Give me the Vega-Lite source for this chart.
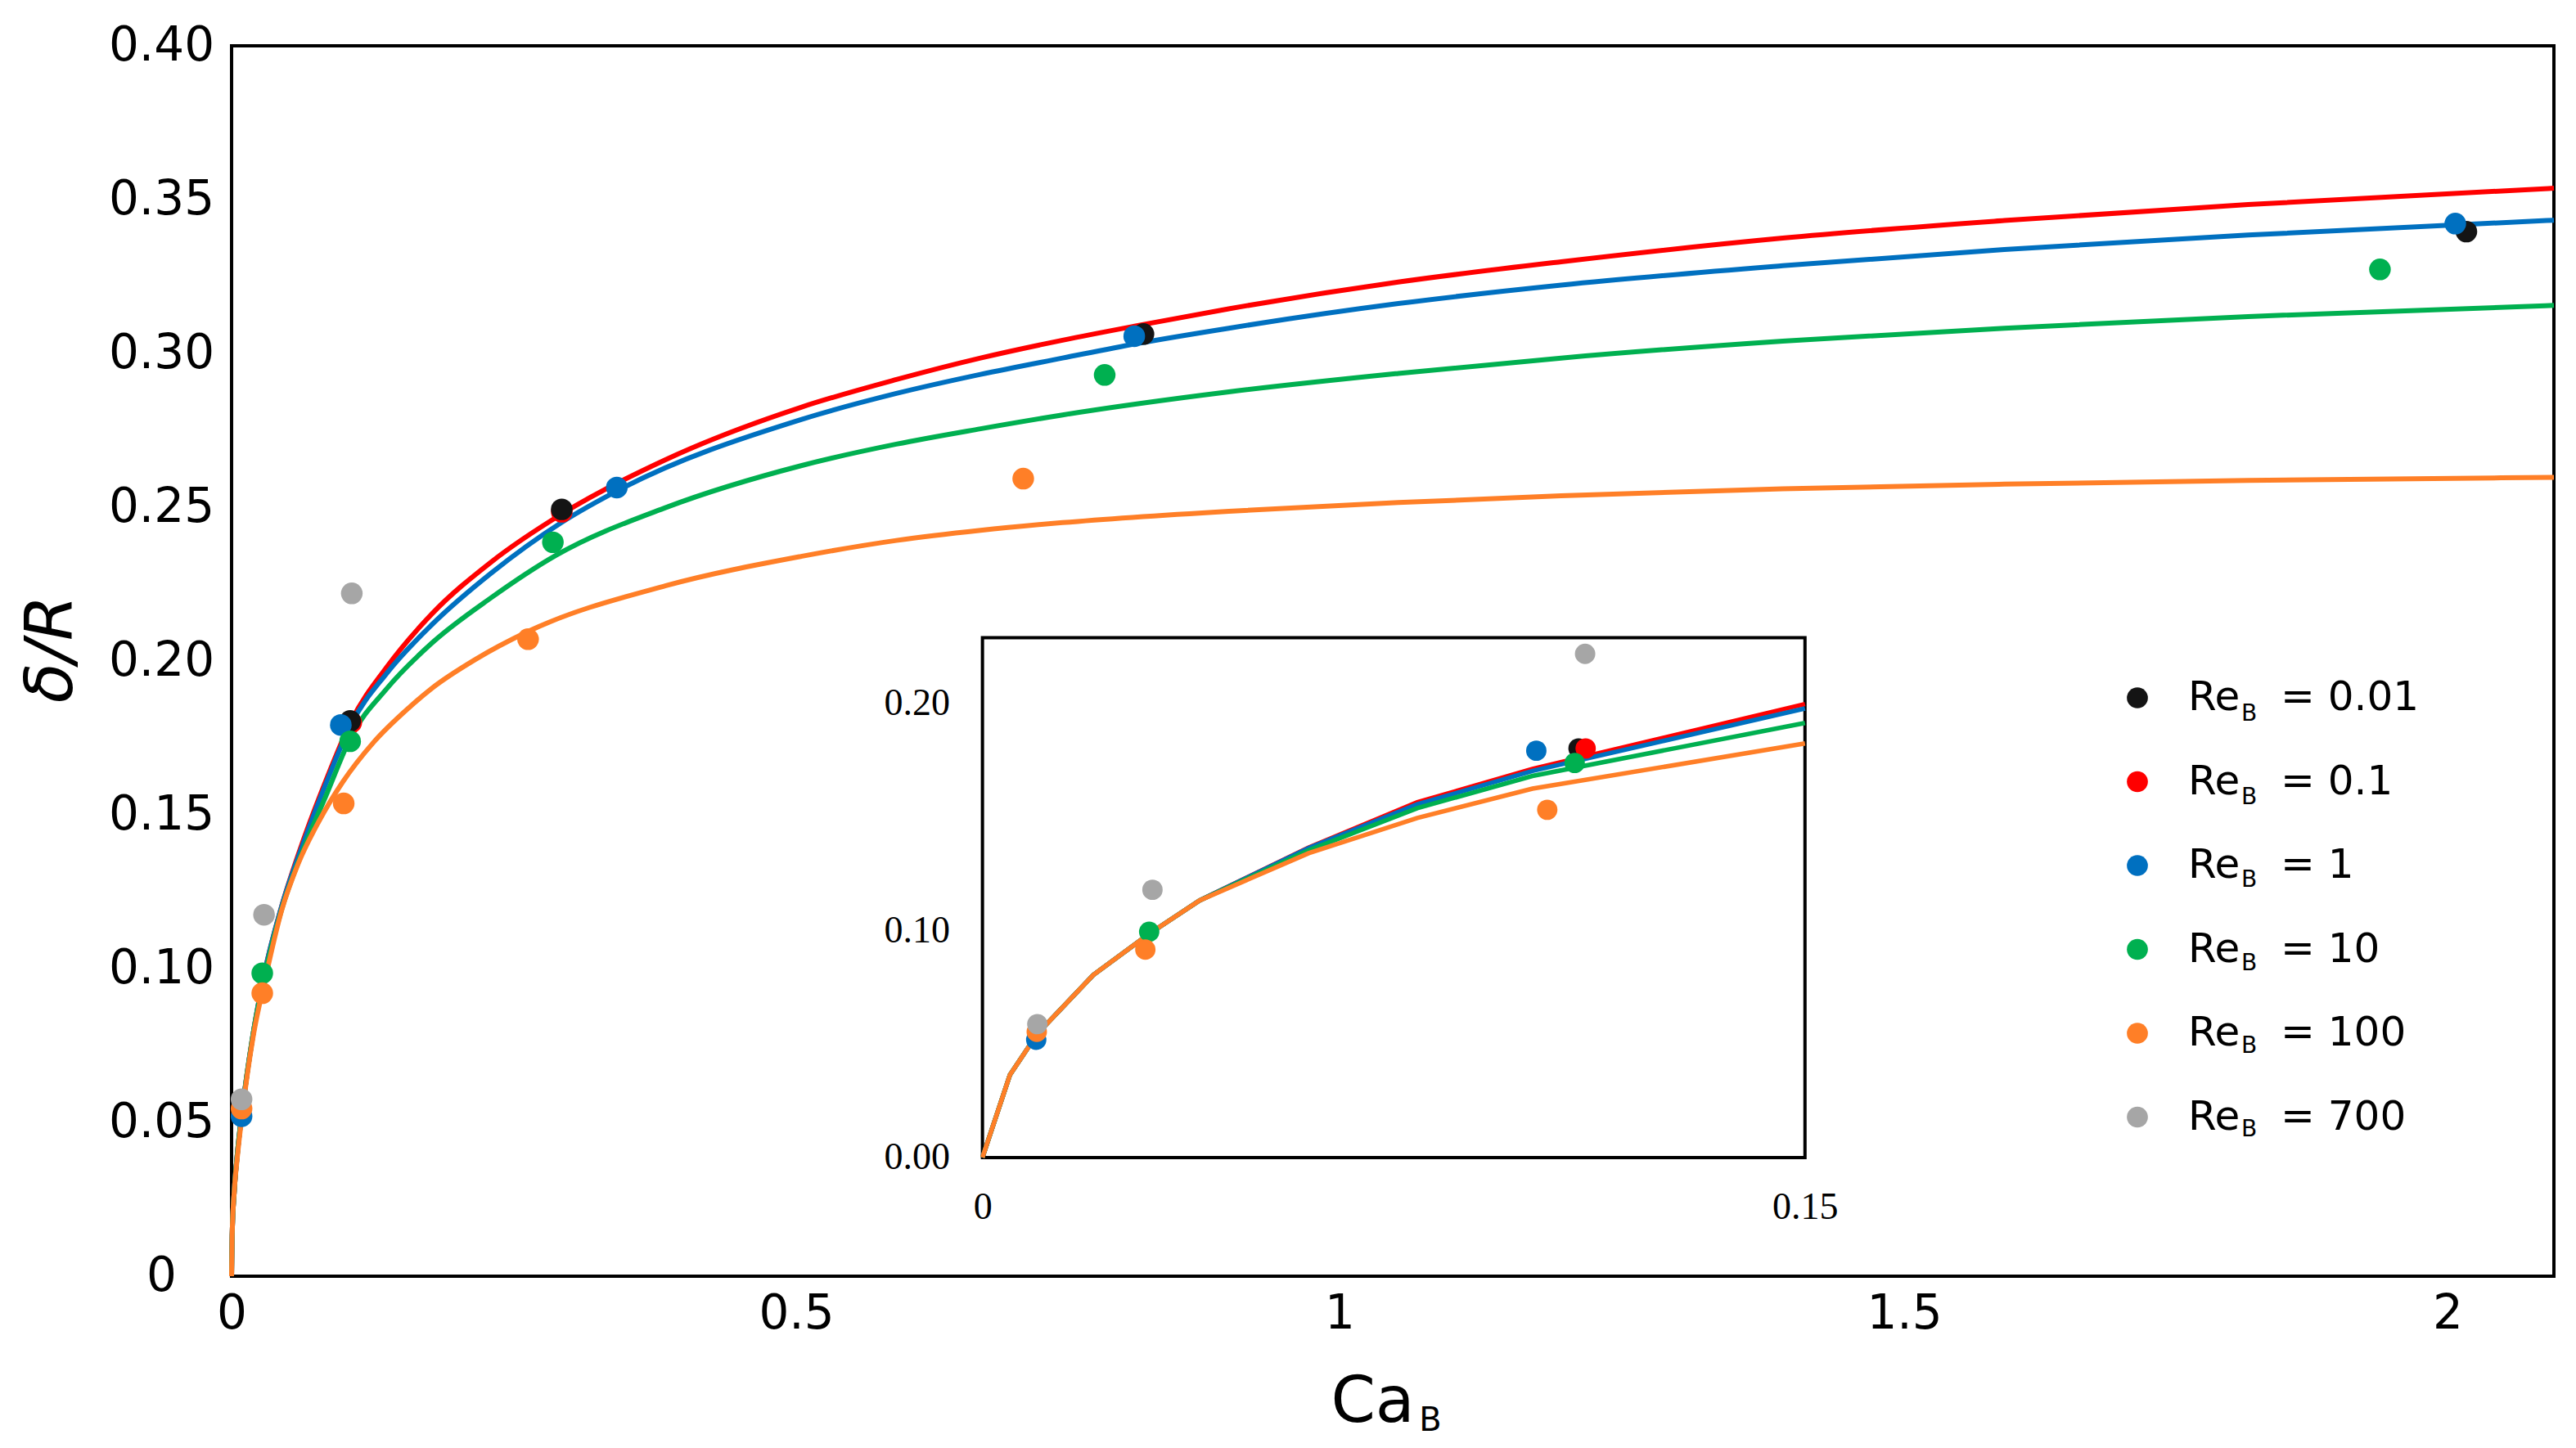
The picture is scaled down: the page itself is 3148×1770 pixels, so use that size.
{
  "$schema": "https://vega.github.io/schema/vega-lite/v6.json",
  "width": 2838,
  "height": 1504,
  "autosize": {"type": "none"},
  "padding": {"left": 283, "top": 56, "right": 27, "bottom": 210},
  "background": "white",
  "config": {
    "view": {"stroke": "black", "strokeWidth": 4},
    "font": "DejaVu Sans",
    "axis": {"grid": false, "domain": false, "ticks": false, "tickSize": 0, "labelColor": "black", "titleColor": "black", "labelOverlap": false, "labelFlush": false},
    "legend": {"padding": 0}
  },
  "title": {"text": "B", "orient": "bottom", "anchor": "middle", "font": "DejaVu Sans", "fontSize": 40, "fontWeight": "normal", "color": "black", "baseline": "alphabetic", "dx": 46, "dy": -8},
  "datasets": {
    "mainCurves": [
      {"Re": "0.1", "Ca": 0, "d": 0}, {"Re": "0.1", "Ca": 0.0005, "d": 0.013}, {"Re": "0.1", "Ca": 0.0025, "d": 0.028}, {"Re": "0.1", "Ca": 0.005, "d": 0.039},
      {"Re": "0.1", "Ca": 0.01, "d": 0.055}, {"Re": "0.1", "Ca": 0.02, "d": 0.08}, {"Re": "0.1", "Ca": 0.03, "d": 0.099}, {"Re": "0.1", "Ca": 0.045, "d": 0.12},
      {"Re": "0.1", "Ca": 0.065, "d": 0.142}, {"Re": "0.1", "Ca": 0.085, "d": 0.161}, {"Re": "0.1", "Ca": 0.108, "d": 0.1805}, {"Re": "0.1", "Ca": 0.14, "d": 0.198},
      {"Re": "0.1", "Ca": 0.181, "d": 0.2154}, {"Re": "0.1", "Ca": 0.234, "d": 0.2321}, {"Re": "0.1", "Ca": 0.298, "d": 0.2478}, {"Re": "0.1", "Ca": 0.392, "d": 0.2655},
      {"Re": "0.1", "Ca": 0.514, "d": 0.2825}, {"Re": "0.1", "Ca": 0.6, "d": 0.2915}, {"Re": "0.1", "Ca": 0.676, "d": 0.2985}, {"Re": "0.1", "Ca": 0.75, "d": 0.3043},
      {"Re": "0.1", "Ca": 0.817, "d": 0.309}, {"Re": "0.1", "Ca": 0.9, "d": 0.3145}, {"Re": "0.1", "Ca": 1.053, "d": 0.3232}, {"Re": "0.1", "Ca": 1.2, "d": 0.3298},
      {"Re": "0.1", "Ca": 1.4, "d": 0.3375}, {"Re": "0.1", "Ca": 1.6, "d": 0.3432}, {"Re": "0.1", "Ca": 1.82, "d": 0.3484}, {"Re": "0.1", "Ca": 2.096, "d": 0.3537},
      {"Re": "1", "Ca": 0, "d": 0}, {"Re": "1", "Ca": 0.0005, "d": 0.013}, {"Re": "1", "Ca": 0.0025, "d": 0.028}, {"Re": "1", "Ca": 0.005, "d": 0.039},
      {"Re": "1", "Ca": 0.01, "d": 0.055}, {"Re": "1", "Ca": 0.02, "d": 0.08}, {"Re": "1", "Ca": 0.03, "d": 0.099}, {"Re": "1", "Ca": 0.045, "d": 0.12},
      {"Re": "1", "Ca": 0.065, "d": 0.141}, {"Re": "1", "Ca": 0.085, "d": 0.16}, {"Re": "1", "Ca": 0.108, "d": 0.1795}, {"Re": "1", "Ca": 0.14, "d": 0.196},
      {"Re": "1", "Ca": 0.181, "d": 0.2119}, {"Re": "1", "Ca": 0.234, "d": 0.2285}, {"Re": "1", "Ca": 0.298, "d": 0.2451}, {"Re": "1", "Ca": 0.35, "d": 0.2557},
      {"Re": "1", "Ca": 0.514, "d": 0.2785}, {"Re": "1", "Ca": 0.6, "d": 0.287}, {"Re": "1", "Ca": 0.676, "d": 0.2932}, {"Re": "1", "Ca": 0.75, "d": 0.2985},
      {"Re": "1", "Ca": 0.817, "d": 0.3032}, {"Re": "1", "Ca": 0.9, "d": 0.3082}, {"Re": "1", "Ca": 1.053, "d": 0.3162}, {"Re": "1", "Ca": 1.2, "d": 0.3222},
      {"Re": "1", "Ca": 1.4, "d": 0.3285}, {"Re": "1", "Ca": 1.6, "d": 0.3338}, {"Re": "1", "Ca": 1.82, "d": 0.3385}, {"Re": "1", "Ca": 2.096, "d": 0.3433},
      {"Re": "10", "Ca": 0, "d": 0}, {"Re": "10", "Ca": 0.0005, "d": 0.013}, {"Re": "10", "Ca": 0.0025, "d": 0.028}, {"Re": "10", "Ca": 0.005, "d": 0.039},
      {"Re": "10", "Ca": 0.01, "d": 0.055}, {"Re": "10", "Ca": 0.02, "d": 0.08}, {"Re": "10", "Ca": 0.03, "d": 0.098}, {"Re": "10", "Ca": 0.045, "d": 0.119},
      {"Re": "10", "Ca": 0.065, "d": 0.139}, {"Re": "10", "Ca": 0.085, "d": 0.156}, {"Re": "10", "Ca": 0.108, "d": 0.1755}, {"Re": "10", "Ca": 0.14, "d": 0.191},
      {"Re": "10", "Ca": 0.181, "d": 0.2059}, {"Re": "10", "Ca": 0.234, "d": 0.2205}, {"Re": "10", "Ca": 0.293, "d": 0.2344}, {"Re": "10", "Ca": 0.392, "d": 0.2499},
      {"Re": "10", "Ca": 0.514, "d": 0.2635}, {"Re": "10", "Ca": 0.6, "d": 0.2705}, {"Re": "10", "Ca": 0.676, "d": 0.2755}, {"Re": "10", "Ca": 0.75, "d": 0.28},
      {"Re": "10", "Ca": 0.9, "d": 0.2875}, {"Re": "10", "Ca": 1.053, "d": 0.2935}, {"Re": "10", "Ca": 1.2, "d": 0.2985}, {"Re": "10", "Ca": 1.4, "d": 0.304},
      {"Re": "10", "Ca": 1.6, "d": 0.3082}, {"Re": "10", "Ca": 1.82, "d": 0.312}, {"Re": "10", "Ca": 2.096, "d": 0.3156},
      {"Re": "100", "Ca": 0, "d": 0}, {"Re": "100", "Ca": 0.0005, "d": 0.013}, {"Re": "100", "Ca": 0.0025, "d": 0.028}, {"Re": "100", "Ca": 0.005, "d": 0.038},
      {"Re": "100", "Ca": 0.01, "d": 0.054}, {"Re": "100", "Ca": 0.02, "d": 0.079}, {"Re": "100", "Ca": 0.03, "d": 0.096}, {"Re": "100", "Ca": 0.045, "d": 0.1187},
      {"Re": "100", "Ca": 0.06, "d": 0.134}, {"Re": "100", "Ca": 0.079, "d": 0.148}, {"Re": "100", "Ca": 0.1, "d": 0.1605}, {"Re": "100", "Ca": 0.128, "d": 0.1735},
      {"Re": "100", "Ca": 0.16, "d": 0.1848}, {"Re": "100", "Ca": 0.181, "d": 0.1912}, {"Re": "100", "Ca": 0.22, "d": 0.2005}, {"Re": "100", "Ca": 0.267, "d": 0.2095},
      {"Re": "100", "Ca": 0.392, "d": 0.2245}, {"Re": "100", "Ca": 0.514, "d": 0.234}, {"Re": "100", "Ca": 0.6, "d": 0.2392}, {"Re": "100", "Ca": 0.676, "d": 0.2425},
      {"Re": "100", "Ca": 0.75, "d": 0.245}, {"Re": "100", "Ca": 0.9, "d": 0.2487}, {"Re": "100", "Ca": 1.053, "d": 0.2515}, {"Re": "100", "Ca": 1.2, "d": 0.2537},
      {"Re": "100", "Ca": 1.4, "d": 0.256}, {"Re": "100", "Ca": 1.6, "d": 0.2575}, {"Re": "100", "Ca": 1.82, "d": 0.2587}, {"Re": "100", "Ca": 2.096, "d": 0.2597}
    ],
    "mainPoints": [
      {"Re": "0.1", "Ca": 0.108, "d": 0.18}, {"Re": "0.1", "Ca": 0.298, "d": 0.2485},
      {"Re": "0.01", "Ca": 0.107, "d": 0.1805}, {"Re": "0.01", "Ca": 0.298, "d": 0.2493}, {"Re": "0.01", "Ca": 0.823, "d": 0.3063}, {"Re": "0.01", "Ca": 2.017, "d": 0.3396},
      {"Re": "1", "Ca": 0.009, "d": 0.052}, {"Re": "1", "Ca": 0.0986, "d": 0.1792}, {"Re": "1", "Ca": 0.3477, "d": 0.2564}, {"Re": "1", "Ca": 0.8147, "d": 0.3056}, {"Re": "1", "Ca": 2.007, "d": 0.3422},
      {"Re": "10", "Ca": 0.0277, "d": 0.0985}, {"Re": "10", "Ca": 0.107, "d": 0.1739}, {"Re": "10", "Ca": 0.29, "d": 0.2386}, {"Re": "10", "Ca": 0.788, "d": 0.293}, {"Re": "10", "Ca": 1.939, "d": 0.3273},
      {"Re": "100", "Ca": 0.009, "d": 0.0545}, {"Re": "100", "Ca": 0.0277, "d": 0.092}, {"Re": "100", "Ca": 0.1012, "d": 0.1537}, {"Re": "100", "Ca": 0.2676, "d": 0.2071}, {"Re": "100", "Ca": 0.7145, "d": 0.2593},
      {"Re": "700", "Ca": 0.009, "d": 0.0575}, {"Re": "700", "Ca": 0.0293, "d": 0.1175}, {"Re": "700", "Ca": 0.1085, "d": 0.222}
    ],
    "insetFrame": [
      {"Ca": 0, "Ca2": 0.15, "d": 0, "d2": 0.2287}
    ],
    "insetCurves": [
      {"Re": "0.1", "Ca": 0, "d": 0}, {"Re": "0.1", "Ca": 0.005, "d": 0.0363}, {"Re": "0.1", "Ca": 0.01, "d": 0.0544}, {"Re": "0.1", "Ca": 0.0202, "d": 0.0803}, {"Re": "0.1", "Ca": 0.0304, "d": 0.0984}, {"Re": "0.1", "Ca": 0.0396, "d": 0.1131},
      {"Re": "0.1", "Ca": 0.0595, "d": 0.1364}, {"Re": "0.1", "Ca": 0.0793, "d": 0.1563}, {"Re": "0.1", "Ca": 0.1003, "d": 0.171}, {"Re": "0.1", "Ca": 0.15, "d": 0.1995},
      {"Re": "1", "Ca": 0, "d": 0}, {"Re": "1", "Ca": 0.005, "d": 0.0363}, {"Re": "1", "Ca": 0.01, "d": 0.0544}, {"Re": "1", "Ca": 0.0202, "d": 0.0803}, {"Re": "1", "Ca": 0.0304, "d": 0.0984}, {"Re": "1", "Ca": 0.0396, "d": 0.1131},
      {"Re": "1", "Ca": 0.0595, "d": 0.1362}, {"Re": "1", "Ca": 0.0793, "d": 0.1554}, {"Re": "1", "Ca": 0.1003, "d": 0.1701}, {"Re": "1", "Ca": 0.15, "d": 0.1976},
      {"Re": "10", "Ca": 0, "d": 0}, {"Re": "10", "Ca": 0.005, "d": 0.0363}, {"Re": "10", "Ca": 0.01, "d": 0.0544}, {"Re": "10", "Ca": 0.0202, "d": 0.0803}, {"Re": "10", "Ca": 0.0304, "d": 0.0984}, {"Re": "10", "Ca": 0.0396, "d": 0.1131},
      {"Re": "10", "Ca": 0.0595, "d": 0.1352}, {"Re": "10", "Ca": 0.0793, "d": 0.1537}, {"Re": "10", "Ca": 0.1003, "d": 0.1679}, {"Re": "10", "Ca": 0.15, "d": 0.1912},
      {"Re": "100", "Ca": 0, "d": 0}, {"Re": "100", "Ca": 0.005, "d": 0.0363}, {"Re": "100", "Ca": 0.01, "d": 0.0544}, {"Re": "100", "Ca": 0.0202, "d": 0.0803}, {"Re": "100", "Ca": 0.0304, "d": 0.0984}, {"Re": "100", "Ca": 0.0396, "d": 0.1131},
      {"Re": "100", "Ca": 0.0595, "d": 0.1339}, {"Re": "100", "Ca": 0.0793, "d": 0.1494}, {"Re": "100", "Ca": 0.1003, "d": 0.1623}, {"Re": "100", "Ca": 0.15, "d": 0.1822}
    ],
    "insetPoints": [
      {"Re": "0.01", "Ca": 0.1087, "d": 0.18},
      {"Re": "0.1", "Ca": 0.11, "d": 0.18},
      {"Re": "1", "Ca": 0.0098, "d": 0.0518}, {"Re": "1", "Ca": 0.101, "d": 0.179},
      {"Re": "10", "Ca": 0.0304, "d": 0.0993}, {"Re": "10", "Ca": 0.108, "d": 0.1736},
      {"Re": "100", "Ca": 0.0099, "d": 0.0553}, {"Re": "100", "Ca": 0.0297, "d": 0.0915}, {"Re": "100", "Ca": 0.103, "d": 0.153},
      {"Re": "700", "Ca": 0.01, "d": 0.0587}, {"Re": "700", "Ca": 0.031, "d": 0.1178}, {"Re": "700", "Ca": 0.1099, "d": 0.2216}
    ]
  },
  "layer": [
    {
      "encoding": {
        "x": {
          "field": "Ca", "type": "quantitative",
          "scale": {"domain": [0, 2.096], "nice": false, "zero": false},
          "axis": {
            "orient": "bottom", "values": [0, 0.5, 1, 1.5, 2], "format": "~g",
            "labelFont": "DejaVu Sans", "labelFontSize": 58, "labelBaseline": "middle", "labelPadding": 46,
            "labelOffset": {"condition": {"test": "datum.value == 0.5 || datum.value == 1.5", "value": 13}, "value": 0},
            "title": "Ca", "titleFont": "DejaVu Sans", "titleFontSize": 78, "titleFontWeight": "normal",
            "titleX": 1394, "titleY": 177, "titleBaseline": "alphabetic", "titleAlign": "center"
          }
        },
        "y": {
          "field": "d", "type": "quantitative",
          "scale": {"domain": [0, 0.4], "nice": false, "zero": false},
          "axis": {
            "orient": "left", "values": [0, 0.05, 0.1, 0.15, 0.2, 0.25, 0.3, 0.35, 0.4],
            "labelExpr": "datum.value == 0 ? '0' : format(datum.value, '.2f')",
            "labelFont": "DejaVu Sans", "labelFontSize": 58, "labelAlign": "center", "labelBaseline": "middle", "labelPadding": 86,
            "title": "δ/R", "titleFont": "DejaVu Sans", "titleFontSize": 80, "titleFontWeight": "normal", "titleFontStyle": "italic",
            "titleAngle": 270, "titleX": -196, "titleY": 737, "titleBaseline": "alphabetic", "titleAlign": "center"
          }
        }
      },
      "layer": [
        {
          "data": {"name": "mainCurves"},
          "mark": {"type": "line", "interpolate": "monotone", "strokeWidth": 6},
          "encoding": {
            "color": {
              "field": "Re", "type": "nominal",
              "scale": {"domain": ["0.01", "0.1", "1", "10", "100", "700"], "range": ["#141414", "#FF0000", "#0070C0", "#00B050", "#FF7F27", "#A6A6A6"]},
              "legend": {
                "orient": "none", "legendX": 2304, "legendY": 772, "title": null, "direction": "vertical",
                "symbolType": "circle", "symbolSize": 660, "symbolStrokeWidth": 0, "symbolOpacity": 0,
                "labelFont": "DejaVu Sans", "labelFontSize": 50, "labelColor": "black", "labelOffset": 150, "labelLimit": 0,
                "rowPadding": 52.5, "padding": 0,
                "labelExpr": "'= ' + datum.label"
              }
            }
          }
        },
        {
          "data": {"name": "mainPoints"},
          "mark": {"type": "point", "shape": "circle", "filled": true, "opacity": 1, "size": 700},
          "encoding": {
            "color": {
              "field": "Re", "type": "nominal",
              "scale": {"domain": ["0.01", "0.1", "1", "10", "100", "700"], "range": ["#141414", "#FF0000", "#0070C0", "#00B050", "#FF7F27", "#A6A6A6"]},
              "legend": {
                "orient": "none", "legendX": 2304, "legendY": 772, "title": null, "direction": "vertical",
                "symbolType": "circle", "symbolSize": 660, "symbolStrokeWidth": 0, "symbolOpacity": 1,
                "labelFont": "DejaVu Sans", "labelFontSize": 50, "labelColor": "black", "labelOffset": 37, "labelLimit": 0,
                "rowPadding": 52.5, "padding": 0,
                "labelExpr": "'Re'"
              }
            }
          }
        }
      ],
      "resolve": {"scale": {"color": "independent"}}
    },
    {
      "encoding": {
        "x": {
          "field": "Ca", "type": "quantitative",
          "scale": {"domain": [-0.13694, 0.28658], "nice": false, "zero": false},
          "axis": {
            "orient": "bottom", "offset": -145, "values": [0, 0.15],
            "labelExpr": "datum.value == 0 ? '0' : format(datum.value, '.2f')",
            "labelFont": "Liberation Serif", "labelFontSize": 46, "labelBaseline": "middle", "labelPadding": 60,
            "title": null
          }
        },
        "y": {
          "field": "d", "type": "quantitative",
          "scale": {"domain": [-0.05223, 0.48917], "nice": false, "zero": false},
          "axis": {
            "orient": "left", "offset": -917.6, "values": [0, 0.1, 0.2], "format": ".2f",
            "labelFont": "Liberation Serif", "labelFontSize": 46, "labelBaseline": "middle", "labelPadding": 40,
            "title": null
          }
        }
      },
      "layer": [
        {
          "data": {"name": "insetFrame"},
          "mark": {"type": "rect", "fill": "white", "stroke": "black", "strokeWidth": 4},
          "encoding": {
            "x2": {"field": "Ca2"},
            "y2": {"field": "d2"}
          }
        },
        {
          "data": {"name": "insetCurves"},
          "mark": {"type": "line", "interpolate": "linear", "strokeWidth": 5.5},
          "encoding": {
            "color": {
              "field": "Re", "type": "nominal",
              "scale": {"domain": ["0.01", "0.1", "1", "10", "100", "700"], "range": ["#141414", "#FF0000", "#0070C0", "#00B050", "#FF7F27", "#A6A6A6"]},
              "legend": null
            }
          }
        },
        {
          "data": {"name": "insetPoints"},
          "mark": {"type": "point", "shape": "circle", "filled": true, "opacity": 1, "size": 620},
          "encoding": {
            "color": {
              "field": "Re", "type": "nominal",
              "scale": {"domain": ["0.01", "0.1", "1", "10", "100", "700"], "range": ["#141414", "#FF0000", "#0070C0", "#00B050", "#FF7F27", "#A6A6A6"]},
              "legend": {
                "orient": "none", "legendX": 2314, "legendY": 803, "title": null, "direction": "vertical",
                "symbolType": "circle", "symbolSize": 660, "symbolStrokeWidth": 0, "symbolOpacity": 0,
                "labelFont": "DejaVu Sans", "labelFontSize": 28, "labelColor": "black", "labelOffset": 114, "labelLimit": 0,
                "rowPadding": 73.5, "padding": 0,
                "labelExpr": "'B'"
              }
            }
          }
        }
      ],
      "resolve": {"scale": {"color": "independent"}}
    }
  ],
  "resolve": {
    "scale": {"x": "independent", "y": "independent", "color": "independent"},
    "axis": {"x": "independent", "y": "independent"}
  }
}
